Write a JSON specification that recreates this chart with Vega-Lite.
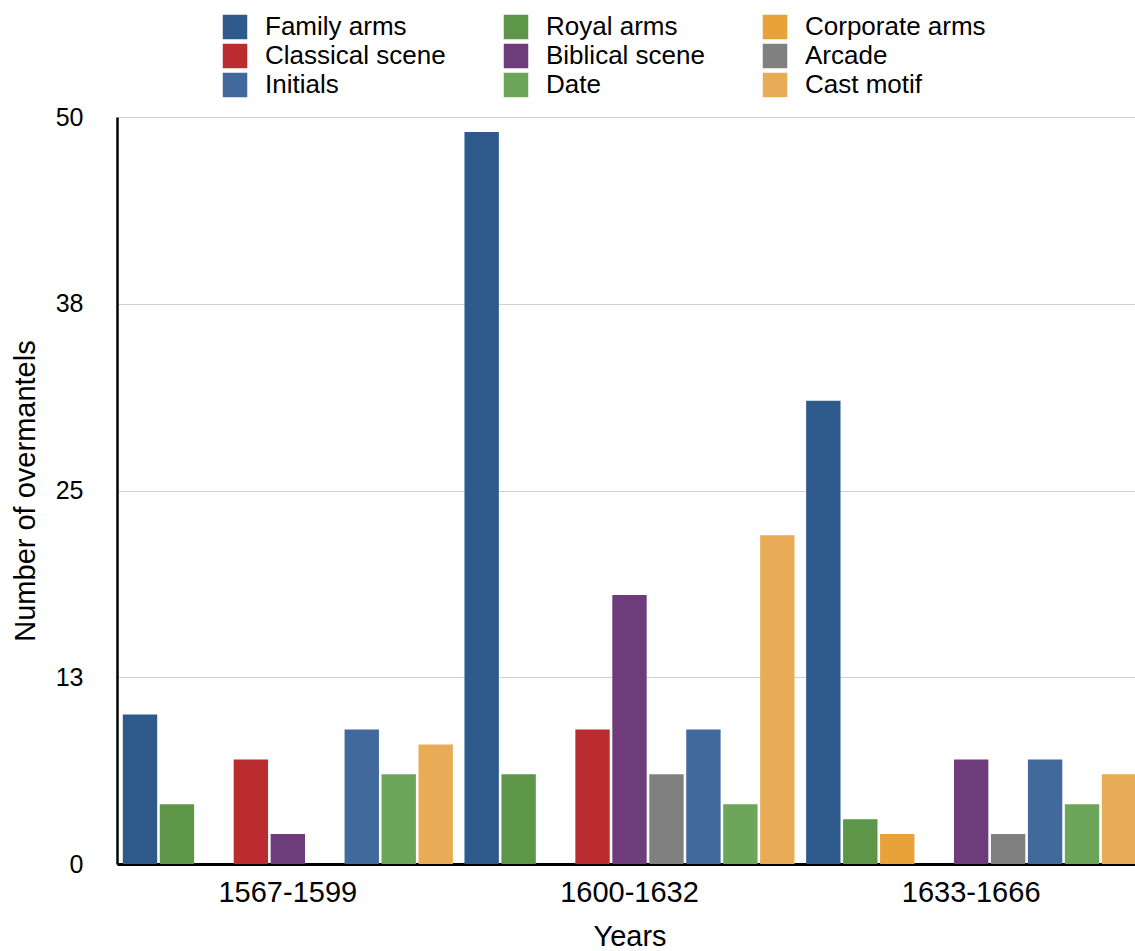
{
  "$schema": "https://vega.github.io/schema/vega-lite/v6.json",
  "autosize": {"type": "none"},
  "padding": {"left": 117, "top": 117, "right": 0, "bottom": 87},
  "width": 1018,
  "height": 747,
  "background": "white",
  "config": {
    "font": "Liberation Sans",
    "view": {"stroke": null},
    "axis": {"labelColor": "#000000", "titleColor": "#000000", "titleFontWeight": "normal", "labelFont": "Liberation Sans", "titleFont": "Liberation Sans"},
    "legend": {"labelFont": "Liberation Sans", "labelColor": "#000000"}
  },
  "data": {
    "values": [
      {"period": "1567-1599", "motif": "Family arms", "count": 10},
      {"period": "1567-1599", "motif": "Royal arms", "count": 4},
      {"period": "1567-1599", "motif": "Corporate arms", "count": 0},
      {"period": "1567-1599", "motif": "Classical scene", "count": 7},
      {"period": "1567-1599", "motif": "Biblical scene", "count": 2},
      {"period": "1567-1599", "motif": "Arcade", "count": 0},
      {"period": "1567-1599", "motif": "Initials", "count": 9},
      {"period": "1567-1599", "motif": "Date", "count": 6},
      {"period": "1567-1599", "motif": "Cast motif", "count": 8},
      {"period": "1600-1632", "motif": "Family arms", "count": 49},
      {"period": "1600-1632", "motif": "Royal arms", "count": 6},
      {"period": "1600-1632", "motif": "Corporate arms", "count": 0},
      {"period": "1600-1632", "motif": "Classical scene", "count": 9},
      {"period": "1600-1632", "motif": "Biblical scene", "count": 18},
      {"period": "1600-1632", "motif": "Arcade", "count": 6},
      {"period": "1600-1632", "motif": "Initials", "count": 9},
      {"period": "1600-1632", "motif": "Date", "count": 4},
      {"period": "1600-1632", "motif": "Cast motif", "count": 22},
      {"period": "1633-1666", "motif": "Family arms", "count": 31},
      {"period": "1633-1666", "motif": "Royal arms", "count": 3},
      {"period": "1633-1666", "motif": "Corporate arms", "count": 2},
      {"period": "1633-1666", "motif": "Classical scene", "count": 0},
      {"period": "1633-1666", "motif": "Biblical scene", "count": 7},
      {"period": "1633-1666", "motif": "Arcade", "count": 2},
      {"period": "1633-1666", "motif": "Initials", "count": 7},
      {"period": "1633-1666", "motif": "Date", "count": 4},
      {"period": "1633-1666", "motif": "Cast motif", "count": 6}
    ]
  },
  "mark": {"type": "bar"},
  "encoding": {
    "x": {
      "field": "period",
      "type": "nominal",
      "sort": ["1567-1599", "1600-1632", "1633-1666"],
      "scale": {"range": [0, 1025], "paddingInner": 0.034, "paddingOuter": 0.017},
      "axis": {
        "title": "Years",
        "labelAngle": 0,
        "labelFontSize": 29,
        "titleFontSize": 29,
        "labelPadding": 14,
        "titlePadding": 15,
        "ticks": false,
        "domainColor": "#000000",
        "domainWidth": 3
      }
    },
    "xOffset": {
      "field": "motif",
      "type": "nominal",
      "sort": ["Family arms", "Royal arms", "Corporate arms", "Classical scene", "Biblical scene", "Arcade", "Initials", "Date", "Cast motif"],
      "scale": {"paddingInner": 0.07, "paddingOuter": 0}
    },
    "y": {
      "field": "count",
      "type": "quantitative",
      "scale": {"domain": [0, 50], "nice": false},
      "axis": {
        "title": "Number of overmantels",
        "values": [0, 12.5, 25, 37.5, 50],
        "format": ".0f",
        "labelFontSize": 25,
        "titleFontSize": 29,
        "labelPadding": 34,
        "titlePadding": 15,
        "ticks": false,
        "grid": true,
        "gridColor": "#d0d0d0",
        "gridWidth": 1,
        "domainColor": "#000000",
        "domainWidth": 2.5
      }
    },
    "color": {
      "field": "motif",
      "type": "nominal",
      "scale": {
        "domain": ["Family arms", "Royal arms", "Corporate arms", "Classical scene", "Biblical scene", "Arcade", "Initials", "Date", "Cast motif"],
        "range": ["#2e5a8b", "#5d9648", "#e8a23a", "#bb2c31", "#6e3c7b", "#808080", "#41699c", "#6da55a", "#e9ac56"]
      },
      "legend": {
        "title": null,
        "orient": "none",
        "direction": "horizontal",
        "legendX": 105,
        "legendY": -103,
        "columns": 3,
        "columnPadding": 57,
        "rowPadding": 3,
        "padding": 0,
        "symbolType": "square",
        "symbolSize": 600,
        "symbolStrokeWidth": 0,
        "labelFontSize": 26,
        "labelOffset": 17,
        "labelLimit": 400
      }
    }
  }
}
